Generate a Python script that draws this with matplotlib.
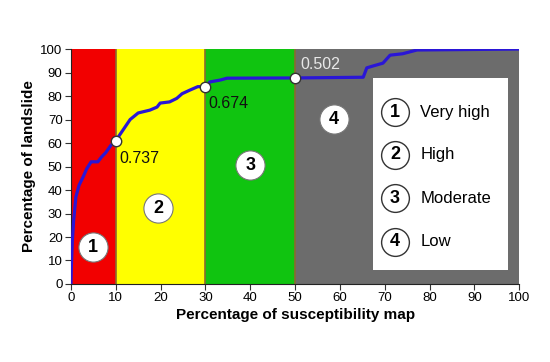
"""Success-rate curve with susceptibility zones."""

import matplotlib
matplotlib.use("Agg")
import matplotlib.pyplot as plt

plt.rcParams["font.family"] = ["Liberation Sans", "DejaVu Sans"]

# cumulative curve
map_pct = [0, 0.1, 0.3, 0.6, 1.1, 1.8, 2.7, 3.5, 4.5, 6.0, 6.8, 7.8, 8.9,
           10.0, 11.6, 13.2, 15.0, 17.6, 19.2, 19.9, 22.0, 23.6, 24.8, 26.5,
           28.3, 30.0, 31.0, 33.3, 34.8, 50.0, 65.2, 66.0, 67.4, 69.6, 71.2,
           74.0, 77.2, 100]
slide_pct = [0, 8, 18, 27, 37, 42, 45.5, 49, 52, 52, 54, 56, 59,
             61, 65.5, 70, 72.8, 74, 75.3, 77, 77.5, 79, 81, 82.5,
             84, 84, 86, 86.8, 87.6, 87.7, 88, 92, 92.8, 94, 97.4,
             98, 99.6, 100]

zone_edges = [0, 10, 30, 50, 100]
zone_colors = ["#f20000", "#ffff00", "#10c410", "#6c6c6c"]
zone_names = ["Very high", "High", "Moderate", "Low"]
zone_label_x = [4.9, 19.4, 40, 58.7]
zone_label_y = [15.7, 32.3, 50.6, 70.2]

break_x = [10, 30, 50]
break_y = [61, 84, 87.7]
break_text = ["0.737", "0.674", "0.502"]

fig = plt.figure(figsize=(5.5, 3.62), dpi=100)
ax = fig.add_axes([0.129, 0.2155, 0.815, 0.649])

for i, c in enumerate(zone_colors):
    ax.axvspan(zone_edges[i], zone_edges[i + 1], color=c, zorder=0, lw=0)
for e in break_x:
    ax.axvline(e, color="#8a6a30", lw=1.2, zorder=1)

ax.plot(map_pct, slide_pct, color="#2a16d6", lw=2.3, zorder=3)
ax.plot(break_x, break_y, "o", ms=7.5, mfc="white", mec="#333333", mew=1,
        zorder=4)

ax.text(10.9, 53.6, break_text[0], fontsize=11.5, va="center", color="#111111")
ax.text(30.6, 77, break_text[1], fontsize=11.5, va="center", color="#111111")
ax.text(51.1, 93.6, break_text[2], fontsize=11.5, va="center", color="#e8e8e8")

for i in range(4):
    ax.plot(zone_label_x[i], zone_label_y[i], "o", ms=21, mfc="white",
            mec="#777777", mew=0.8, zorder=4)
    ax.text(zone_label_x[i], zone_label_y[i], str(i + 1), fontsize=13,
            fontweight="bold", ha="center", va="center", zorder=5)

# legend box
ax.add_patch(plt.Rectangle((67.4, 6), 30.1, 81.7, facecolor="white",
                           edgecolor="none", zorder=4))
legend_y = [73.2, 55, 36.6, 17.9]
for i in range(4):
    ax.plot(72.3, legend_y[i], "o", ms=20, mfc="white", mec="#333333",
            mew=1, zorder=5)
    ax.text(72.3, legend_y[i], str(i + 1), fontsize=13, fontweight="bold",
            ha="center", va="center", zorder=6)
    ax.text(77.9, legend_y[i], zone_names[i], fontsize=12, va="center",
            zorder=6)

ax.set_xlim(0, 100)
ax.set_ylim(0, 100)
ax.set_xticks(range(0, 101, 10))
ax.set_yticks(range(0, 101, 10))
ax.tick_params(labelsize=9.5, length=4, direction="out", color="#333333",
               pad=2)
for s in ["top", "right"]:
    ax.spines[s].set_visible(False)
ax.spines["left"].set_color("#222222")
ax.spines["bottom"].set_color("#222222")
ax.set_xlabel("Percentage of susceptibility map", fontsize=11,
              fontweight="bold", labelpad=3)
ax.set_ylabel("Percentage of landslide", fontsize=11, fontweight="bold",
              labelpad=3)

fig.savefig("out.png", dpi=100)
